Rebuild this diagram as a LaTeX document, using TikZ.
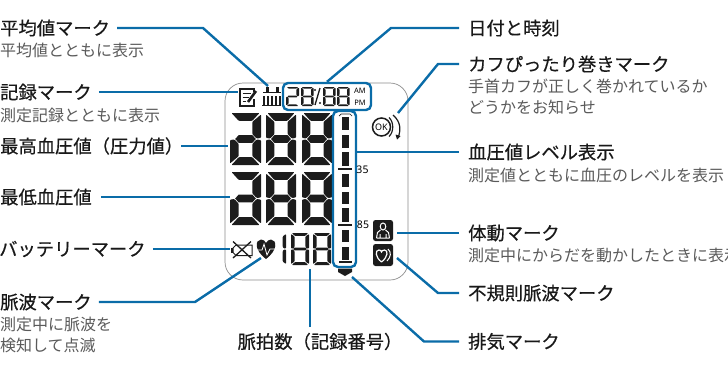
\documentclass[tikz,border=0pt]{standalone}
\usepackage{fontspec}
\setmainfont{Noto Sans}
\newfontfamily\jpfont{Noto Sans CJK JP}
\newfontfamily\jphead[FakeBold=0.45]{Noto Sans CJK JP}
\definecolor{leadblue}{HTML}{0A6CA8}
\definecolor{subgray}{HTML}{5A5A5A}
\definecolor{lcdink}{HTML}{1C1C1C}

\tikzset{
  head/.style={anchor=west,inner sep=0pt,font=\jphead\fontsize{18.3}{20}\selectfont,text=black!90},
  sub/.style={anchor=west,inner sep=0pt,align=left,font=\jpfont\fontsize{16}{21.5}\selectfont,text=subgray},
  leader/.style={draw=leadblue,line width=2.4pt,shorten <=7pt},
  rleader/.style={draw=leadblue,line width=2.4pt,shorten <=9pt},
  bluebox/.style={draw=leadblue,line width=2.4pt,rounded corners=5pt,inner sep=0pt},
  markbox/.style={inner sep=0pt,minimum width=20pt,minimum height=21pt},
  darkbox/.style={fill=lcdink,rounded corners=2.5pt},
  ink/.style={draw=lcdink,line width=1pt}
}

\newcommand\tx{.28}
\newcommand\ty{.15}
\newcommand\sega{\fill[rounded corners=.8pt] (.05,0)--(.95,0)--(1-\tx,\ty)--(\tx,\ty)--cycle;}
\newcommand\segb{\fill[rounded corners=.8pt] (1,.03)--(1,.48)--(1-\tx*.5,.49)--(1-\tx,.5-\ty/2-.02)--(1-\tx,\ty+.02)--cycle;}
\newcommand\segc{\fill[rounded corners=.8pt] (1,.52)--(1,.97)--(1-\tx,1-\ty-.02)--(1-\tx,.5+\ty/2+.02)--(1-\tx*.5,.51)--cycle;}
\newcommand\segd{\fill[rounded corners=.8pt] (.05,1)--(.95,1)--(1-\tx,1-\ty)--(\tx,1-\ty)--cycle;}
\newcommand\sege{\fill[rounded corners=.8pt] (0,.52)--(0,.97)--(\tx,1-\ty-.02)--(\tx,.5+\ty/2+.02)--(\tx*.5,.51)--cycle;}
\newcommand\segf{\fill[rounded corners=.8pt] (0,.03)--(0,.48)--(\tx*.5,.49)--(\tx,.5-\ty/2-.02)--(\tx,\ty+.02)--cycle;}
\newcommand\segg{\fill (\tx*.6,.5)--(\tx,.5-\ty/2)--(1-\tx,.5-\ty/2)--(1-\tx*.6,.5)--(1-\tx,.5+\ty/2)--(\tx,.5+\ty/2)--cycle;}
\newcommand\lcddigit[5]{%
  \begin{scope}[shift={(#1,#2)},xscale=#3,yscale=#4,lcdink]
  \foreach \s in {#5} {\csname seg\s\endcsname}
  \end{scope}}

\begin{document}
\begin{tikzpicture}[x=1pt,y=-1pt]
\useasboundingbox (0,0) rectangle (728,370);

\draw[black!45,line width=.7pt,rounded corners=18pt] (225,83) rectangle (408,280);

\lcddigit{230}{113}{31}{52}{a,b,c,d,e,g}
\lcddigit{266}{113}{30}{52}{a,b,c,d,e,f,g}
\lcddigit{302}{113}{30}{52}{a,b,c,d,e,f,g}
\lcddigit{230}{172}{31}{53}{a,b,c,d,e,g}
\lcddigit{266}{172}{30}{53}{a,b,c,d,e,f,g}
\lcddigit{302}{172}{30}{53}{a,b,c,d,e,f,g}

\renewcommand\tx{.2}
\renewcommand\ty{.09}
\lcddigit{269}{233}{17}{32}{b,c}
\lcddigit{291}{233}{18}{32}{a,b,c,d,e,f,g}
\lcddigit{313}{233}{18}{32}{a,b,c,d,e,f,g}

\lcddigit{286}{87}{13}{19}{a,b,d,e,g}
\lcddigit{301}{87}{12.5}{19}{a,b,c,d,e,f,g}
\lcddigit{323}{87}{12.5}{19}{a,b,c,d,e,f,g}
\lcddigit{337}{87}{12.5}{19}{a,b,c,d,e,f,g}
\draw[lcdink,line width=1.3pt] (320,88)--(315,105);
\fill[lcdink] (315,90) circle (1.2pt) (320,103) circle (1.2pt);
\node[inner sep=0pt,font=\bfseries\fontsize{7.5}{8}\selectfont] (amtxt) at (360,90.5) {AM};
\node[inner sep=0pt,font=\bfseries\fontsize{7.5}{8}\selectfont] (pmtxt) at (360,102.5) {PM};

\node[bluebox,minimum width=88pt,minimum height=27pt] (datebox) at (327,96.5) {};
\node[bluebox,minimum width=23pt,minimum height=156pt] (levelbox) at (344.5,189) {};

\foreach \a/\b in {117/130,135/148,152/166,174/187,192/204,208/222,230/242,247/260}
  \fill[lcdink] (342,\a) rectangle (349,\b);
\fill[lcdink] (339,260.5) rectangle (352,263);
\draw[lcdink,line width=.7pt] (339,116) -- (341,114) -- (350,114) -- (352,116);
\draw[lcdink,line width=1.2pt] (338,169) -- (352,169);
\draw[lcdink,line width=1.2pt] (338,225) -- (352,225);
\node[inner sep=0pt,font=\fontsize{10.5}{11}\selectfont] (lv135) at (362.5,169.5) {35};
\node[inner sep=0pt,font=\fontsize{10.5}{11}\selectfont] (lv85) at (363,225) {85};
\fill[lcdink] (338,268.5) -- (352,268.5) -- (352,272) -- (345,276) -- (338,272) -- cycle;

\node[markbox,minimum width=18pt] (memo) at (247.5,97) {};
\draw[ink,line width=1.3pt] (254,92) -- (254,89) -- (240,89) -- (240,106) -- (254,106) -- (254,99);
\draw[ink] (242.5,93) -- (251,93) (242.5,97) -- (249,97) (242.5,101) -- (246,101);
\draw[lcdink,line width=2.6pt] (248,102) -- (256,91);

\node[markbox] (avgicon) at (271.5,97) {};
\draw[ink,line width=1.4pt] (262,105.5) -- (281,105.5);
\draw[ink,line width=1.4pt] (263,92.5) -- (281,92.5);
\foreach \x in {264,268,272,276,280} \draw[ink,line width=1.4pt] (\x,96) -- (\x,105);
\foreach \x in {267,277} \fill[lcdink] (\x-1.5,87) rectangle (\x+1.5,92);

\node[draw=lcdink,circle,line width=1.5pt,minimum size=18pt,inner sep=0pt,font=\bfseries\fontsize{9}{9}\selectfont] (okmark) at (381.5,127) {OK};
\draw[ink,line width=1.2pt] (389,117.5) .. controls (394,122) and (394,132) .. (389,136.5);
\draw[ink,line width=1.2pt] (393,115) .. controls (401,122) and (401,130) .. (398,138);
\fill[lcdink] (395.5,134.5) -- (400.5,136) -- (397,139.5) -- cycle;

\node[markbox] (bodyicon) at (383,230.5) {};
\fill[darkbox] (373,220) rectangle (393,241);
\draw[white,line width=1pt] (383,226.5) ellipse (2.8pt and 3.5pt);
\draw[white,line width=1pt] (376.5,238) -- (377.5,232.5) -- (380.5,230) (389.5,238) -- (388.5,232.5) -- (385.5,230) (376.5,238) -- (389.5,238) (380,234) -- (380,238) (386,234) -- (386,238);

\node[markbox,minimum height=22pt] (hearticon) at (383,255) {};
\fill[darkbox] (373,244) rectangle (393,266);
\draw[white,line width=1.2pt] (381.5,262) .. controls (375,257) and (375,250) .. (379,250) .. controls (380.5,250) and (381.5,251) .. (381.5,252) .. controls (381.5,251) and (383,250) .. (384.5,250) .. controls (388.5,250) and (388,257) .. (381.5,262);
\draw[white,line width=1pt] (388,249) .. controls (391.5,252) and (391,257) .. (387,261);

\node[markbox,minimum width=22pt,minimum height=16pt] (batt) at (241,250) {};
\draw[ink,line width=1pt] (233,248) -- (236,245) -- (252,245) -- (252,255.5) -- (236,255.5) -- (233,252.5) -- cycle;
\fill[lcdink] (231,248) rectangle (233,252.5);
\draw[ink,line width=1.3pt] (233,241.5) -- (251,258) (251,241.5) -- (233,258);

\node[markbox,minimum width=22pt] (pulseicon) at (266,249) {};
\fill[lcdink] (266,259) .. controls (254,250) and (255,240) .. (261,239.5) .. controls (263.5,239.5) and (265,241) .. (266,243) .. controls (267,241) and (269,239.5) .. (271,239.5) .. controls (277,240) and (278,250) .. (266,259);
\draw[white,line width=.8pt] (256,250) -- (262,250) -- (264,244) -- (267,255) -- (270,249) -- (277,249);

\node[head] (avgT) at (0,28) {平均値マーク};
\node[sub] (avgS) at (0,50) {平均値とともに表示};
\node[head] (recT) at (0,92) {記録マーク};
\node[sub] (recS) at (0,115) {測定記録とともに表示};
\node[head] (sysT) at (0,146) {最高血圧値（圧力値）};
\node[head] (diaT) at (0,197) {最低血圧値};
\node[head] (batT) at (-1,249) {バッテリーマーク};
\node[head] (pulT) at (0,302) {脈波マーク};
\node[sub] (pulS) at (0,335) {測定中に脈波を\\検知して点滅};
\node[head,anchor=center] (rateT) at (320,341.5) {脈拍数（記録番号）};
\node[head] (dateT) at (468,28) {日付と時刻};
\node[head] (cuffT) at (468,64) {カフぴったり巻きマーク};
\node[sub] (cuffS) at (468,97) {手首カフが正しく巻かれているか\\どうかをお知らせ};
\node[head] (levelT) at (468,152) {血圧値レベル表示};
\node[sub] (levelS) at (468,175) {測定値とともに血圧のレベルを表示};
\node[head] (moveT) at (468,233) {体動マーク};
\node[sub] (moveS) at (468,255) {測定中にからだを動かしたときに表示};
\node[head] (irrT) at (468,293) {不規則脈波マーク};
\node[head] (ventT) at (468,341.5) {排気マーク};

\coordinate (avgB) at (203,28);
\coordinate (avgE) at (268,86);
\coordinate (dateB) at (391,28);
\coordinate (cuffB) at (438,64);
\coordinate (cuffE) at (398,113);
\coordinate (irrB) at (438,293);
\coordinate (irrE) at (397,258);
\coordinate (ventB) at (424,341.5);
\coordinate (ventE) at (352,277);
\coordinate (pulB) at (195,302);
\coordinate (pulE) at (261,258);
\coordinate (rateE) at (310,269);
\coordinate (rateS) at (310,327);

\draw[leader] (avgT.east) -- (avgB) -- (avgE);
\draw[leader] (recT.east) -- (memo.west |- recT.east);
\draw[leader,shorten <=-2pt] (sysT.east) -- (228,146);
\draw[leader,shorten <=9pt] (diaT.east) -- (230,197);
\draw[leader] (batT.east) -- (batt.west |- batT.east);
\draw[leader] (pulT.east) -- (pulB) -- (pulE);
\draw[leadblue,line width=2.4pt] (rateS) -- (rateE);
\draw[rleader] (dateT.west) -- (dateB) -- (datebox.north);
\draw[rleader] (cuffT.west) -- (cuffB) -- (cuffE);
\draw[rleader] (levelT.west) -- (levelT.west -| levelbox.east);
\draw[rleader] (moveT.west) -- (397,233);
\draw[rleader] (irrT.west) -- (irrB) -- (irrE);
\draw[rleader] (ventT.west) -- (ventB) -- (ventE);
\end{tikzpicture}
\end{document}
